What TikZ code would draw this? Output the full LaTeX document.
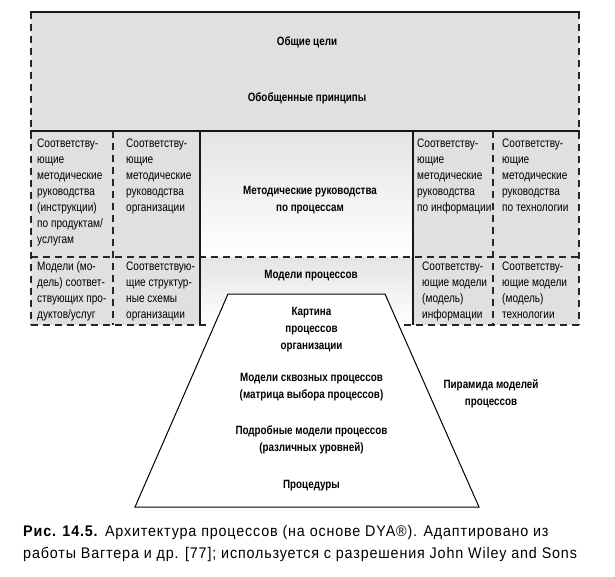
\documentclass[tikz,border=0pt]{standalone}
\usepackage{fontspec}
\setmainfont{Liberation Sans}[FakeStretch=0.82]
\newfontfamily\capfont{Liberation Sans}[FakeStretch=0.93, LetterSpace=5.5]
\definecolor{cellgray}{RGB}{224,224,226}
\definecolor{shadegray}{RGB}{228,228,230}
\tikzset{
  thickline/.style={line width=2.6pt, draw=black!90},
  dashline/.style={line width=1.7pt, draw=black!85, dash pattern=on 7pt off 5pt},
  celltext/.style={anchor=north west, inner sep=0pt, align=left, font=\fontsize{12.3}{16}\selectfont,
    execute at begin node={\rule{0pt}{10pt}}},
  boldtext/.style={inner sep=0pt, align=center, font=\fontsize{12}{17}\selectfont\bfseries},
  captext/.style={anchor=base west, inner sep=0pt, font=\capfont\fontsize{15.4}{20}\selectfont},
}
\begin{document}
\begin{tikzpicture}[x=1pt,y=-1pt]
\useasboundingbox[fill=white] (0,0) rectangle (615,576);
% fills
\fill[cellgray] (31,12) rectangle (579,131);
\fill[cellgray] (31,131) rectangle (200,325);
\fill[cellgray] (413,131) rectangle (579,325);
\shade[top color=shadegray, bottom color=white] (200,131) rectangle (413,257);
\shade[top color=shadegray, bottom color=white] (200,257) rectangle (413,325);
% corner coordinates
\coordinate (tl) at (31,12);
\coordinate (tr) at (579,12);
\coordinate (ml) at (31,131);
\coordinate (mr) at (579,131);
\coordinate (bl) at (31,325);
\coordinate (br) at (579,325);
\coordinate (hl) at (31,257);
\coordinate (hr) at (579,257);
\coordinate (c1t) at (113,131); \coordinate (c1b) at (113,325);
\coordinate (c2t) at (200,131); \coordinate (c2b) at (200,325);
\coordinate (c3t) at (413,131); \coordinate (c3b) at (413,325);
\coordinate (c4t) at (493,131); \coordinate (c4b) at (493,325);
\coordinate (ble) at (208,325);
\coordinate (bre) at (404,325);
% trapezoid
\coordinate (p1) at (228,294);
\coordinate (p2) at (385,294);
\coordinate (p3) at (479,507);
\coordinate (p4) at (135,507);
\draw[line width=1pt, fill=white] (p1) -- (p2) -- (p3) -- (p4) -- cycle;
% lines
\draw[dashline] (tl) -- (bl);
\draw[dashline] (tr) -- (br);
\draw[dashline] (hl) -- (hr);
\draw[dashline] (bl) -- (ble);
\draw[dashline] (bre) -- (br);
\draw[dashline] (c1t) -- (c1b);
\draw[dashline] (c4t) -- (c4b);
\draw[thickline] (c2t) -- (c2b);
\draw[thickline] (c3t) -- (c3b);
\draw[thickline] ([xshift=-1pt]tl) -- ([xshift=1pt]tr);
\draw[thickline] ([xshift=-1pt]ml) -- ([xshift=1pt]mr);
% top texts
\node[boldtext] (goals) at (307,42) {Общие цели};
\node[boldtext] (princ) at (307,98) {Обобщенные принципы};
% cell texts
\node[celltext] (a1) at (37,138.5) {Соответству-\\ющие\\методические\\руководства\\(инструкции)\\по продуктам/\\услугам};
\node[celltext] (a2) at (126,138.5) {Соответству-\\ющие\\методические\\руководства\\организации};
\node[celltext] (a3) at (417,138.5) {Соответству-\\ющие\\методические\\руководства\\по информации};
\node[celltext] (a4) at (502,138.5) {Соответству-\\ющие\\методические\\руководства\\по технологии};
\node[celltext] (b1) at (37,261.5) {Модели (мо-\\дель) соответ-\\ствующих про-\\дуктов/услуг};
\node[celltext] (b2) at (126,261.5) {Соответствую-\\щие структур-\\ные схемы\\организации};
\node[celltext] (b3) at (422,261.5) {Соответству-\\ющие модели\\(модель)\\информации};
\node[celltext] (b4) at (502,261.5) {Соответству-\\ющие модели\\(модель)\\технологии};
% center texts
\node[boldtext] (meth) at (310,200.5) {Методические руководства\\по процессам};
\node[boldtext] (mproc) at (311,276) {Модели процессов};
\node[boldtext] (kart) at (311.5,330) {Картина\\процессов\\организации};
\node[boldtext] (skv) at (311.5,387.5) {Модели сквозных процессов\\(матрица выбора процессов)};
\node[boldtext] (podr) at (311.5,439.5) {Подробные модели процессов\\(различных уровней)};
\node[boldtext] (proc) at (311.5,485.5) {Процедуры};
\node[boldtext] (pyr) at (491,393.5) {Пирамида моделей\\процессов};
% caption
\node[captext] (cap1) at (23,536) {\textbf{Рис. 14.5.} Архитектура процессов (на основе DYA®). Адаптировано из};
\node[captext] (cap2) at (23,558) {работы Вагтера и др. [77]; используется с разрешения John Wiley and Sons};
\end{tikzpicture}
\end{document}
